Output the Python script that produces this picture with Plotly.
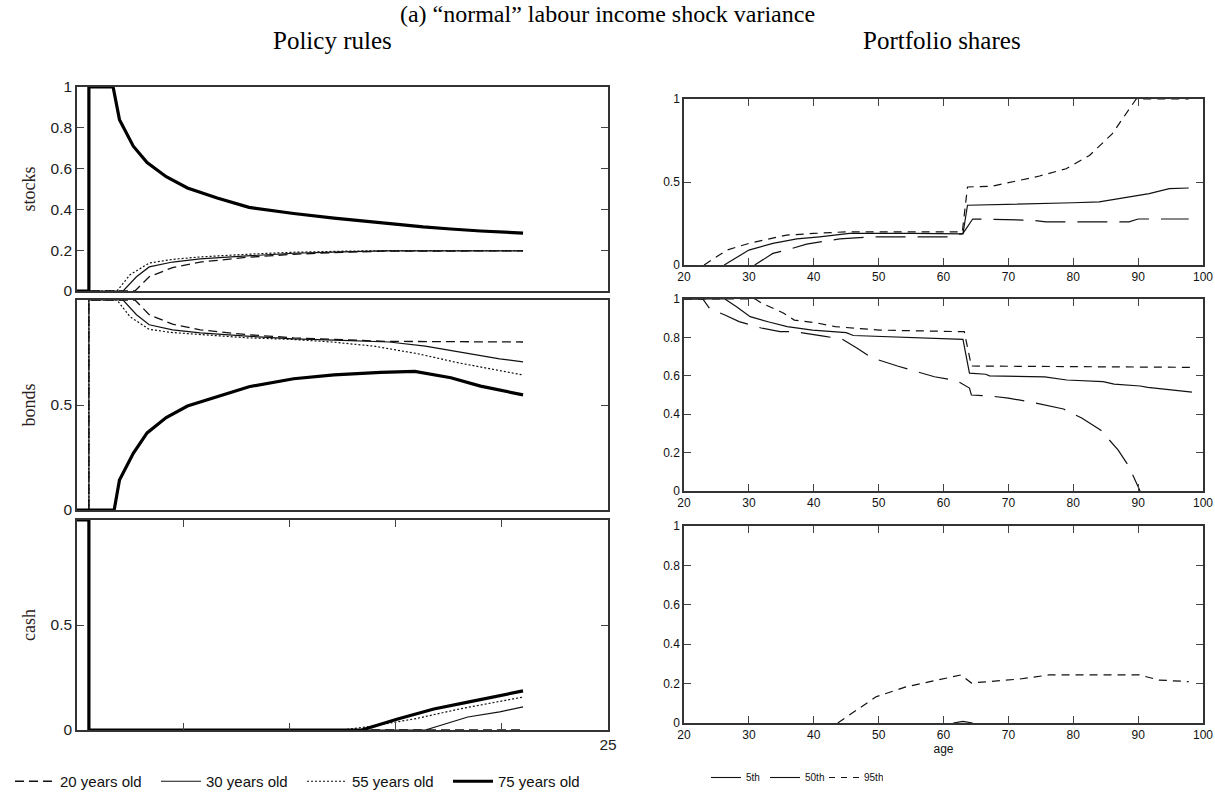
import plotly.graph_objects as go

W, H = 1215, 796
SANS = "Liberation Sans, Arial, sans-serif"
SERIF = "Liberation Serif, Times New Roman, serif"

# ---------------- Left: policy rules (x = cash on hand) ----------------
groups = ["20 years old", "30 years old", "55 years old", "75 years old"]

stocks_20_x = [0, 2.73, 3.4, 4.5, 5.8, 8.0, 10.2, 12.5, 14.5, 21.0]
stocks_20_y = [0, 0, 0.07, 0.115, 0.142, 0.165, 0.18, 0.19, 0.195, 0.197]
stocks_30_x = [0, 2.17, 2.8, 3.4, 4.5, 5.8, 8.0, 10.2, 12.5, 14.5, 21.0]
stocks_30_y = [0, 0, 0.07, 0.118, 0.142, 0.157, 0.172, 0.185, 0.192, 0.197, 0.197]
stocks_55_x = [0, 1.88, 2.5, 3.4, 4.5, 5.8, 8.0, 10.2, 12.5, 14.5, 21.0]
stocks_55_y = [0, 0, 0.08, 0.137, 0.155, 0.167, 0.18, 0.19, 0.195, 0.198, 0.198]
stocks_75_x = [0, 0.56, 0.56, 1.7, 2.0, 2.65, 3.3, 4.2, 5.2, 6.6, 8.1, 10.2, 12.1, 14.3, 16.3, 17.6, 19.0, 21.0]
stocks_75_y = [0, 0, 1, 1, 0.84, 0.71, 0.63, 0.56, 0.505, 0.456, 0.41, 0.38, 0.357, 0.333, 0.314, 0.304, 0.294, 0.284]

bonds_20_x = [0, 0.56, 0.56, 2.73, 3.4, 4.5, 5.8, 8.0, 10.2, 12.5, 14.5, 21.0]
bonds_20_y = [0, 0, 1, 1, 0.93, 0.885, 0.858, 0.835, 0.82, 0.81, 0.803, 0.80]
bonds_30_x = [0, 0.56, 0.56, 2.17, 2.8, 3.4, 4.5, 5.8, 8.0, 10.2, 12.5, 14.7, 16.4, 18.4, 19.9, 21.0]
bonds_30_y = [0, 0, 1, 1, 0.93, 0.882, 0.858, 0.843, 0.828, 0.815, 0.808, 0.80, 0.78, 0.745, 0.72, 0.705]
bonds_55_x = [0, 0.56, 0.56, 1.88, 2.5, 3.4, 4.5, 5.8, 8.0, 10.2, 12.0, 14.0, 16.0, 18.0, 21.0]
bonds_55_y = [0, 0, 1, 1, 0.92, 0.86, 0.845, 0.835, 0.82, 0.812, 0.80, 0.78, 0.745, 0.70, 0.643]
bonds_75_x = [0, 1.75, 2.0, 2.65, 3.3, 4.2, 5.2, 6.6, 8.1, 10.2, 12.1, 14.3, 15.9, 17.6, 19.0, 21.0]
bonds_75_y = [0, 0, 0.143, 0.27, 0.367, 0.44, 0.495, 0.54, 0.587, 0.625, 0.643, 0.655, 0.66, 0.63, 0.59, 0.548]

cash_20_x = [0, 0.56, 0.56, 21.0]
cash_20_y = [1, 1, 0, 0]
cash_30_x = [0, 0.56, 0.56, 16.4, 18.4, 19.9, 21.0]
cash_30_y = [1, 1, 0, 0, 0.062, 0.086, 0.11]
cash_55_x = [0, 0.56, 0.56, 12.5, 14.0, 16.0, 18.0, 21.0]
cash_55_y = [1, 1, 0, 0, 0.02, 0.055, 0.10, 0.157]
cash_75_x = [0, 0.56, 0.56, 13.4, 15.1, 16.8, 18.4, 19.9, 21.0]
cash_75_y = [1, 1, 0, 0, 0.052, 0.10, 0.133, 0.162, 0.186]

left_ticks_x = [5, 10, 15, 20, 25]
left_ticks_x_text = ["", "", "", "", "25"]

# ---------------- Right: portfolio shares by age ----------------
pct_names = ["5th", "50th", "95th"]

st_5_age = [30.9, 33.7, 35.8, 38.9, 44, 49, 55, 61, 63, 64.5, 73.5, 75.8, 88.6, 90, 97.8]
st_5 = [0, 0.07, 0.09, 0.126, 0.157, 0.17, 0.17, 0.17, 0.19, 0.277, 0.27, 0.26, 0.26, 0.277, 0.277]
st_50_age = [26.2, 30, 33.7, 37.4, 40.9, 45.5, 55, 63, 63.7, 73, 80, 84, 89, 91.7, 94.8, 97.8]
st_50 = [0, 0.09, 0.13, 0.157, 0.17, 0.19, 0.19, 0.187, 0.36, 0.367, 0.375, 0.38, 0.41, 0.43, 0.46, 0.464]
st_95_age = [23.1, 26.6, 30, 35.8, 40, 45, 55, 62.9, 63.7, 67.5, 71.7, 74.8, 78.9, 82.5, 86, 89.7, 97.8]
st_95 = [0, 0.09, 0.13, 0.18, 0.19, 0.2, 0.2, 0.2, 0.47, 0.475, 0.51, 0.536, 0.58, 0.66, 0.79, 1.0, 1.0]

bd_5_age = [20, 22.9, 24, 26.3, 28.5, 31.9, 34.8, 37, 41.5, 44.4, 46.7, 49, 52.9, 56.3, 58.6, 62, 64,
            64.3, 67.1, 70, 73.9, 78.5, 81.3, 84.2, 86.9, 88.6, 90.3]
bd_5 = [1, 1, 0.948, 0.917, 0.882, 0.849, 0.83, 0.83, 0.807, 0.79, 0.744, 0.693, 0.651, 0.62, 0.595, 0.575, 0.536,
        0.5, 0.495, 0.484, 0.46, 0.427, 0.38, 0.318, 0.214, 0.127, 0]
bd_50_age = [20, 26.3, 28.1, 30.2, 33.1, 35.9, 39.8, 45, 46.1, 52.9, 63, 64, 66.5, 67.1, 75.6, 79, 84.6, 86.3,
             90.3, 91.5, 94.9, 98.3]
bd_50 = [1, 1, 0.96, 0.908, 0.88, 0.856, 0.838, 0.825, 0.81, 0.803, 0.79, 0.614, 0.608, 0.6, 0.594, 0.578, 0.57,
         0.557, 0.547, 0.54, 0.526, 0.515]
bd_95_age = [20, 31.0, 31.9, 35.3, 37, 40.5, 43.3, 50.1, 62.6, 63.2, 64.3, 98.3]
bd_95 = [1, 1, 0.98, 0.927, 0.89, 0.875, 0.856, 0.838, 0.83, 0.83, 0.651, 0.644]

ca_50_age = [61.5, 63, 64.5]
ca_50 = [0, 0.008, 0]
ca_95_age = [43.7, 49.6, 54.2, 59.9, 62.7, 64.3, 69.6, 71.7, 76.3, 90.2, 93.2, 97.8]
ca_95 = [0, 0.133, 0.183, 0.223, 0.244, 0.203, 0.218, 0.223, 0.244, 0.244, 0.218, 0.21]

age_ticks = [20, 30, 40, 50, 60, 70, 80, 90, 100]


def px_x(p):
    return p / W


def px_y(p):
    return 1 - p / H


fig = go.Figure()

left_style = {
    "20 years old": dict(color="#111", width=1.3, dash="9px,5px"),
    "30 years old": dict(color="#111", width=1.2, dash="solid"),
    "55 years old": dict(color="#111", width=1.2, dash="2px,2px"),
    "75 years old": dict(color="#000", width=3.2, dash="solid"),
}
left_data = {
    "20 years old": [(stocks_20_x, stocks_20_y), (bonds_20_x, bonds_20_y), (cash_20_x, cash_20_y)],
    "30 years old": [(stocks_30_x, stocks_30_y), (bonds_30_x, bonds_30_y), (cash_30_x, cash_30_y)],
    "55 years old": [(stocks_55_x, stocks_55_y), (bonds_55_x, bonds_55_y), (cash_55_x, cash_55_y)],
    "75 years old": [(stocks_75_x, stocks_75_y), (bonds_75_x, bonds_75_y), (cash_75_x, cash_75_y)],
}
for g in groups:
    for i, (xs, ys) in enumerate(left_data[g]):
        ax = "" if i == 0 else str(i + 1)
        fig.add_trace(go.Scatter(
            x=xs, y=ys, mode="lines", name=g, legendgroup=g, showlegend=(i == 0),
            legend="legend", line=left_style[g], xaxis="x" + ax, yaxis="y" + ax,
            hoverinfo="skip"))

right_style = {
    "5th": dict(color="#111", width=1.2, dash="30px,12px"),
    "50th": dict(color="#111", width=1.2, dash="solid"),
    "95th": dict(color="#111", width=1.2, dash="8px,6px"),
}
right_data = [
    ("x4", "y4", [("5th", st_5_age, st_5), ("50th", st_50_age, st_50), ("95th", st_95_age, st_95)]),
    ("x5", "y5", [("5th", bd_5_age, bd_5), ("50th", bd_50_age, bd_50), ("95th", bd_95_age, bd_95)]),
    ("x6", "y6", [("50th", ca_50_age, ca_50), ("95th", ca_95_age, ca_95)]),
]
for xa, ya, series in right_data:
    for name, xs, ys in series:
        fig.add_trace(go.Scatter(x=xs, y=ys, mode="lines", name=name, showlegend=False,
                                 line=right_style[name], xaxis=xa, yaxis=ya, hoverinfo="skip"))

# legend entries for the right panels (as drawn in the original key)
legend2_style = {"5th": "solid", "50th": "solid", "95th": "6px,6px"}
for name in pct_names:
    fig.add_trace(go.Scatter(x=[None], y=[None], mode="lines", name=name, legend="legend2",
                             line=dict(color="#111", width=1.1, dash=legend2_style[name]),
                             xaxis="x6", yaxis="y6"))

axis_common = dict(showgrid=False, zeroline=False, showline=True, linecolor="#333", linewidth=1.5,
                   automargin=False)
left_dom = [px_x(77), px_x(608)]
right_dom = [px_x(684), px_x(1203)]
left_tickfont = dict(family=SANS, size=15.5, color="#222")
right_tickfont = dict(family=SANS, size=12, color="#111")
ytitle_font = dict(family=SERIF, size=18, color="#2a2020")

layout = dict(
    width=W, height=H, margin=dict(l=0, r=0, t=0, b=0, autoexpand=False),
    paper_bgcolor="white", plot_bgcolor="white", showlegend=True,
    title=dict(text="(a) \u201cnormal\u201d labour income shock variance", x=0.5, xanchor="center",
               y=px_y(14), yanchor="middle", font=dict(family=SERIF, size=24, color="#000")),
    xaxis=dict(domain=left_dom, range=[0, 25], anchor="y", mirror=True, ticks="", showticklabels=False,
               **axis_common),
    xaxis2=dict(domain=left_dom, range=[0, 25], anchor="y2", mirror=True, ticks="", showticklabels=False,
                **axis_common),
    xaxis3=dict(domain=left_dom, range=[0, 25], anchor="y3", mirror="ticks", ticks="inside", ticklen=7,
                tickvals=left_ticks_x, ticktext=left_ticks_x_text, tickfont=left_tickfont, **axis_common),
    yaxis=dict(domain=[px_y(291), px_y(87)], range=[0, 1], anchor="x", mirror="ticks", ticks="inside",
               ticklen=7, tickvals=[0, 0.2, 0.4, 0.6, 0.8, 1], ticktext=["0", "0.2", "0.4", "0.6", "0.8", "1"],
               tickfont=left_tickfont, title=dict(text="stocks", font=ytitle_font, standoff=10), **axis_common),
    yaxis2=dict(domain=[px_y(510), px_y(300)], range=[0, 1], anchor="x2", mirror="ticks", ticks="inside",
                ticklen=7, tickvals=[0, 0.5], ticktext=["0", "0.5"], tickfont=left_tickfont,
                title=dict(text="bonds", font=ytitle_font, standoff=10), **axis_common),
    yaxis3=dict(domain=[px_y(730), px_y(520)], range=[0, 1], anchor="x3", mirror="ticks", ticks="inside",
                ticklen=7, tickvals=[0, 0.5], ticktext=["0", "0.5"], tickfont=left_tickfont,
                title=dict(text="cash", font=ytitle_font, standoff=10), **axis_common),
    legend=dict(orientation="h", x=px_x(10), xanchor="left", y=px_y(765), yanchor="top",
                font=dict(family=SANS, size=15, color="#111"), itemwidth=40,
                entrywidth=91, entrywidthmode="pixels", bgcolor="rgba(0,0,0,0)"),
    legend2=dict(orientation="h", x=px_x(706), xanchor="left", y=px_y(763), yanchor="top",
                 font=dict(family=SANS, size=10, color="#111"), itemwidth=30,
                 entrywidth=14, entrywidthmode="pixels", bgcolor="rgba(0,0,0,0)"),
    annotations=[
        dict(text="Policy rules", x=px_x(332), y=px_y(40), xref="paper", yref="paper", showarrow=False,
             font=dict(family=SERIF, size=25, color="#000"), xanchor="center", yanchor="middle"),
        dict(text="Portfolio shares", x=px_x(942), y=px_y(40), xref="paper", yref="paper", showarrow=False,
             font=dict(family=SERIF, size=25, color="#000"), xanchor="center", yanchor="middle"),
    ],
)

for k, (dom_b, dom_t, yt) in zip([4, 5, 6], [(265, 99, [0, 0.5, 1]),
                                             (491, 299, [0, 0.2, 0.4, 0.6, 0.8, 1]),
                                             (723, 526, [0, 0.2, 0.4, 0.6, 0.8, 1])]):
    xa = dict(domain=right_dom, range=[20, 100], anchor="y%d" % k, mirror="ticks", ticks="inside", ticklen=7,
              tickvals=age_ticks, ticktext=[str(a) for a in age_ticks], tickfont=right_tickfont, **axis_common)
    if k == 6:
        xa["title"] = dict(text="age", font=dict(family=SANS, size=12, color="#111"), standoff=2)
    layout["xaxis%d" % k] = xa
    layout["yaxis%d" % k] = dict(domain=[px_y(dom_b), px_y(dom_t)], range=[0, 1], anchor="x%d" % k,
                                 mirror="ticks", ticks="inside", ticklen=7, tickvals=yt,
                                 ticktext=[("%g" % v) for v in yt], tickfont=right_tickfont, **axis_common)

fig.update_layout(**layout)
fig.write_html("out.html", config={"displayModeBar": False},
               post_script="document.body.style.margin='0px';")
